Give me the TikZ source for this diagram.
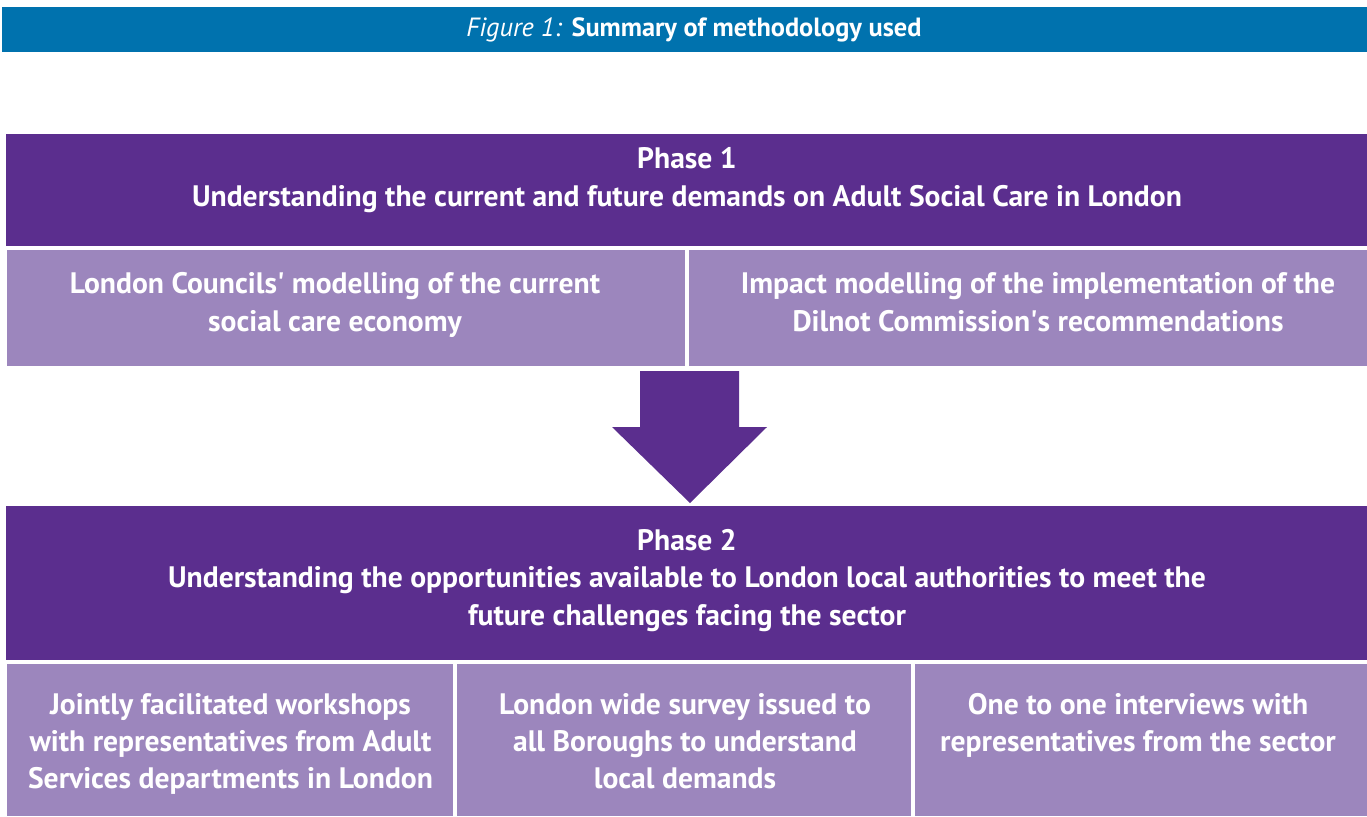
\documentclass[tikz,border=0pt]{standalone}
\usepackage{fontspec}
\setmainfont{PT Sans}
\usetikzlibrary{positioning}

\definecolor{bannerblue}{HTML}{0072AE}
\definecolor{phasepurple}{HTML}{5B2E8E}
\definecolor{steplilac}{HTML}{9C86BD}

% one unit of the picture
\newcommand\px{0.02cm}

\tikzset{
	banner/.style={fill=bannerblue, inner sep=0pt},
	bannertext/.style={text=white, inner sep=0pt, font=\fontsize{15}{18}\selectfont},
	phasebox/.style={fill=phasepurple, inner sep=0pt},
	stepbox/.style={fill=steplilac, inner sep=0pt},
	boxtext/.style={text=white, align=center, inner sep=0pt, font=\bfseries\fontsize{16.85}{21.3}\selectfont,
		execute at begin node=\strut, execute at end node=\strut}
}

\begin{document}
\begin{tikzpicture}[x=0.02cm, y=-0.02cm]
			%%%%% START %%%%%
			\useasboundingbox (0, 0) rectangle (1367, 816);
			
			\node[banner, minimum width=1365*\px, minimum height=45*\px] (title) at (684.5, 29.5) {};
			\node[bannertext] (titletxt) at (694, 30) {\textit{Figure 1:} \textbf{Summary of methodology used}};
			
			% phase 1 and its two strands
			\node[phasebox, minimum width=1361*\px, minimum height=112*\px] (phaseone) at (686.5, 190) {};
			\node[stepbox, minimum width=678*\px, minimum height=116*\px] (modelcur) at (346, 308) {};
			\node[stepbox, minimum width=678*\px, minimum height=116*\px] (modeldil) at (1028, 308) {};
			
			\node[boxtext] (phaseonetxt) at (687, 182.5) {Phase 1\\Understanding the current and future demands on Adult Social Care in London};
			\node[boxtext] (modelcurtxt) at (335, 307.5) {London Councils\textquotesingle{} modelling of the current\\social care economy};
			\node[boxtext] (modeldiltxt) at (1038, 307.5) {Impact modelling of the implementation of the\\Dilnot Commission\textquotesingle s recommendations};
			
			% block arrow down to phase 2
			\fill[phasepurple] (640, 371) -- (739, 371) -- (739, 427) -- (767, 427) -- (690, 503) -- (612, 427) -- (640, 427) -- cycle;
			
			% phase 2 and its three strands
			\node[phasebox, minimum width=1361*\px, minimum height=154*\px] (phasetwo) at (686.5, 583) {};
			\node[stepbox, minimum width=446*\px, minimum height=152*\px] (workshops) at (230, 740) {};
			\node[stepbox, minimum width=454*\px, minimum height=152*\px] (survey) at (684, 740) {};
			\node[stepbox, minimum width=452*\px, minimum height=152*\px] (interviews) at (1141, 740) {};
			
			\node[boxtext] (phasetwotxt) at (687, 583) {Phase 2\\Understanding the opportunities available to London local authorities to meet the\\future challenges facing the sector};
			\node[boxtext] (workshopstxt) at (230.5, 746.5) {Jointly facilitated workshops\\with representatives from Adult\\Services departments in London};
			\node[boxtext] (surveytxt) at (685, 746.5) {London wide survey issued to\\all Boroughs to understand\\local demands};
			\node[boxtext] (interviewstxt) at (1138, 728) {One to one interviews with\\representatives from the sector};
			
			%%%%% END %%%%%
\end{tikzpicture}
\end{document}
